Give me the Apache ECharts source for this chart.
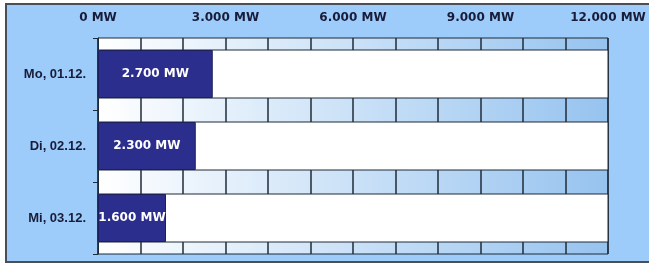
<!DOCTYPE html>
<html>
<head>
<meta charset="utf-8">
<script src="https://cdn.jsdelivr.net/npm/echarts@6/dist/echarts.min.js"></script>
<style>
  html, body { margin: 0; padding: 0; background: #fff; }
  #frame {
    position: absolute; left: 5px; top: 3px; width: 644px; height: 256px;
    background: #9dcbfa;
    border-left: 2px solid #4a4f57; border-top: 2px solid #4a4f57; border-bottom: 2px solid #4a4f57;
  }
  #chart { position: absolute; left: 0; top: 0; width: 649px; height: 264px; }
</style>
</head>
<body>
<div id="frame"></div>
<div id="chart"></div>
<script>
// data
var days = ['Mo, 01.12.', 'Di, 02.12.', 'Mi, 03.12.'];
var loadMW = [2700, 2300, 1600];
var axisMax = 12000;
var labelStep = 3000;

function fmtMW(v) {
    return String(v).replace(/\B(?=(\d{3})+(?!\d))/g, '.') + ' MW';
}

var lineColor = '#1f2b38';
var chart = echarts.init(document.getElementById('chart'));

var option = {
    animation: false,
    grid: {
        left: 98, right: 41, top: 38, bottom: 10,
        show: true,
        borderColor: lineColor,
        borderWidth: 1,
        backgroundColor: {
            type: 'linear', x: 0, y: 0, x2: 1, y2: 0,
            colorStops: [
                { offset: 0, color: '#ffffff' },
                { offset: 1, color: '#96c3ef' }
            ]
        }
    },
    xAxis: {
        type: 'value',
        position: 'top',
        min: 0,
        max: axisMax,
        interval: 1000,
        axisLine: { show: false },
        axisTick: { show: false },
        axisLabel: {
            margin: 14,
            color: '#181c38',
            fontFamily: '"DejaVu Sans", sans-serif',
            fontWeight: 'bold',
            fontSize: 12,
            formatter: function (v) { return v % labelStep === 0 ? fmtMW(v) : ''; }
        },
        splitLine: { show: true, lineStyle: { color: lineColor, width: 1.5 } }
    },
    yAxis: {
        type: 'category',
        inverse: true,
        data: days,
        axisLine: { show: true, lineStyle: { color: lineColor, width: 1 } },
        axisTick: { show: true, length: 5, lineStyle: { color: lineColor } },
        axisLabel: {
            margin: 12,
            color: '#181c38',
            fontFamily: '"Liberation Sans Narrow", "Liberation Sans", sans-serif',
            fontWeight: 'bold',
            fontSize: 13
        }
    },
    series: [{
        type: 'bar',
        data: loadMW,
        barWidth: 48,
        showBackground: true,
        backgroundStyle: { color: '#ffffff', borderColor: lineColor, borderWidth: 1 },
        itemStyle: { color: '#2c2e8e', borderColor: '#1d1f5a', borderWidth: 1 },
        label: {
            show: true,
            position: 'inside',
            color: '#ffffff',
            fontFamily: '"DejaVu Sans", sans-serif',
            fontWeight: 'bold',
            fontSize: 12,
            formatter: function (p) { return fmtMW(p.value); }
        }
    }]
};
chart.setOption(option);
</script>
</body>
</html>
